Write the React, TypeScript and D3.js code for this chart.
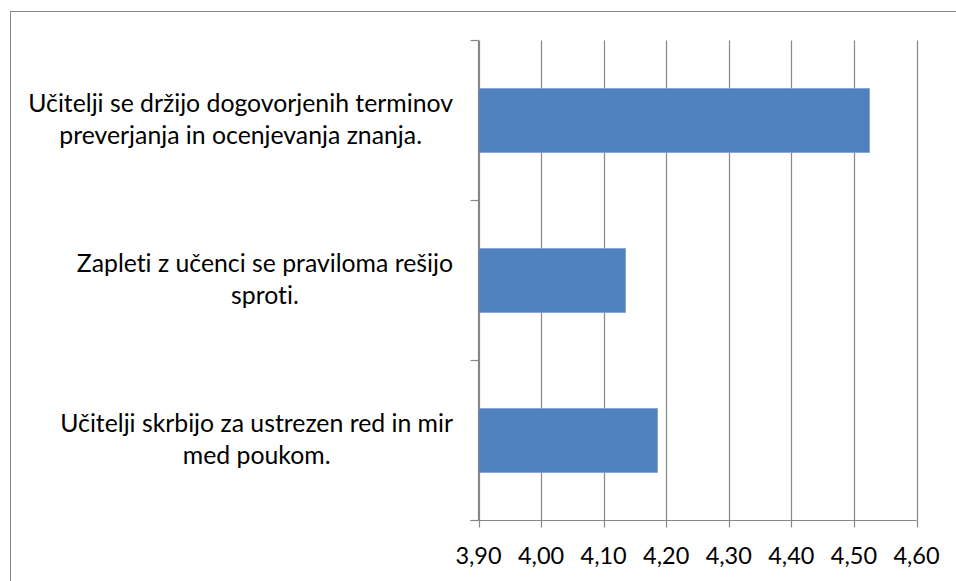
import React, { useRef, useEffect } from "react";
import * as d3 from "d3";

// categories top to bottom, "\n" marks the label line break
const categories = [
  "Učitelji se držijo dogovorjenih terminov\npreverjanja in ocenjevanja znanja.",
  "Zapleti z učenci se praviloma rešijo\nsproti.",
  "Učitelji skrbijo za ustrezen red in mir\nmed poukom.",
];
const values = [4.525, 4.135, 4.186];
const tickValues = [3.9, 4.0, 4.1, 4.2, 4.3, 4.4, 4.5, 4.6];

const App = () => {
  const svgRef = useRef<SVGSVGElement>(null);

  useEffect(() => {
    const width = 956;
    const height = 581;
    const plot = { left: 478.5, right: 916.5, top: 40.5, bottom: 520.5 };
    const gridColor = "#878787";
    const font = "Lato, 'Open Sans', sans-serif";

    const svg = d3.select(svgRef.current);
    svg.selectAll("*").remove();
    svg.attr("width", width).attr("height", height);

    // outer chart frame (runs off the right and bottom edges)
    svg
      .append("rect")
      .attr("x", 10.5)
      .attr("y", 11.5)
      .attr("width", 1000)
      .attr("height", 1000)
      .attr("fill", "white")
      .attr("stroke", gridColor)
      .attr("stroke-width", 1);

    const xScale = d3
      .scaleLinear()
      .domain([3.9, 4.6])
      .range([plot.left, plot.right]);

    const yScale = d3
      .scaleBand()
      .domain(categories)
      .range([plot.top, plot.bottom])
      .paddingInner(0.6)
      .paddingOuter(0.3);

    // vertical gridlines + ticks below axis
    svg
      .append("g")
      .selectAll("line")
      .data(tickValues)
      .enter()
      .append("line")
      .attr("x1", (d) => Math.round(xScale(d)) + 0.5)
      .attr("x2", (d) => Math.round(xScale(d)) + 0.5)
      .attr("y1", plot.top)
      .attr("y2", plot.bottom + 7)
      .attr("stroke", gridColor)
      .attr("stroke-width", 1.2);

    // bars
    svg
      .selectAll(".bar")
      .data(values)
      .enter()
      .append("rect")
      .attr("class", "bar")
      .attr("x", xScale(3.9))
      .attr("y", (d, i) => yScale(categories[i]))
      .attr("width", (d) => xScale(d) - xScale(3.9))
      .attr("height", yScale.bandwidth())
      .attr("fill", "#4F81BD")
      .attr("stroke", "#7DA1CF")
      .attr("stroke-width", 0.8);

    // category axis line + ticks at band edges
    const edges = d3.range(categories.length + 1).map((i) => plot.top + i * yScale.step());
    svg
      .append("line")
      .attr("x1", plot.left)
      .attr("x2", plot.left)
      .attr("y1", plot.top)
      .attr("y2", plot.bottom)
      .attr("stroke", gridColor)
      .attr("stroke-width", 1.2);
    svg
      .append("g")
      .selectAll("line")
      .data(edges)
      .enter()
      .append("line")
      .attr("x1", plot.left - 8)
      .attr("x2", plot.left)
      .attr("y1", (d) => d)
      .attr("y2", (d) => d)
      .attr("stroke", gridColor)
      .attr("stroke-width", 1.2);

    // value axis line
    svg
      .append("line")
      .attr("x1", plot.left - 8)
      .attr("x2", plot.right)
      .attr("y1", plot.bottom)
      .attr("y2", plot.bottom)
      .attr("stroke", gridColor)
      .attr("stroke-width", 1.2);

    // tick labels
    const fmt = d3.format(".2f");
    svg
      .append("g")
      .selectAll("text")
      .data(tickValues)
      .enter()
      .append("text")
      .attr("x", (d) => xScale(d))
      .attr("y", 564)
      .attr("text-anchor", "middle")
      .style("font-family", font)
      .style("font-size", "23.5px")
      .attr("fill", "#000")
      .text((d) => fmt(d).replace(".", ","));

    // category labels, lines centred with each other, block right edge at 453
    categories.forEach((c) => {
      const lines = c.split("\n");
      const g = svg.append("g");
      const cy = yScale(c) + yScale.bandwidth() / 2;
      const texts = lines.map((line, i) =>
        g
          .append("text")
          .attr("y", cy - 9 + i * 32.5)
          .attr("text-anchor", "middle")
          .style("font-family", font)
          .style("font-size", "24.8px")
          .style("font-variant-ligatures", "none")
          .attr("fill", "#000")
          .text(line)
      );
      const maxW = d3.max(texts, (t) => (t.node() as SVGTextElement).getComputedTextLength()) || 0;
      texts.forEach((t) => t.attr("x", 453 - maxW / 2));
    });
  }, []);

  return <svg ref={svgRef} style={{ position: "absolute", left: 0, top: 0 }}></svg>;
};

export default App;
